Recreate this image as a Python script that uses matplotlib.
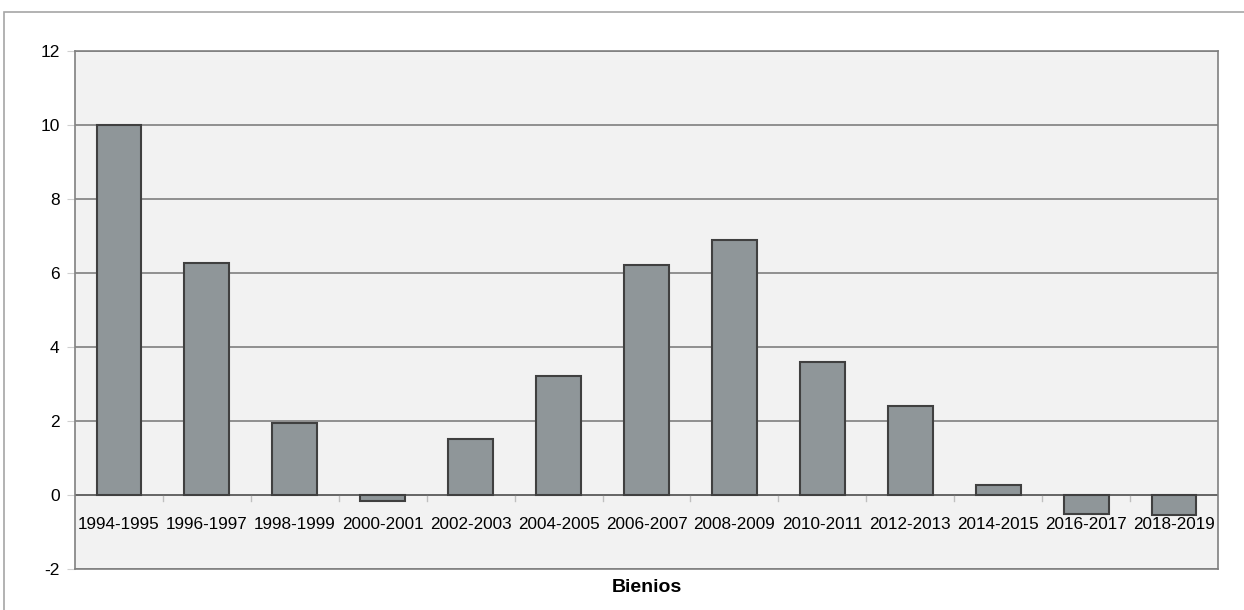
import matplotlib
matplotlib.use('Agg')
import matplotlib.pyplot as plt
from matplotlib.patches import Rectangle

# Bienios and their values
bienios = ['1994-1995', '1996-1997', '1998-1999', '2000-2001', '2002-2003',
           '2004-2005', '2006-2007', '2008-2009', '2010-2011', '2012-2013',
           '2014-2015', '2016-2017', '2018-2019']
valores = [10.0, 6.27, 1.95, -0.17, 1.51, 3.22, 6.22, 6.88, 3.6, 2.41, 0.27, -0.51, -0.55]
y_ticks = [-2, 0, 2, 4, 6, 8, 10, 12]

plt.rcParams['font.family'] = ['Liberation Sans', 'DejaVu Sans']

fig = plt.figure(figsize=(12.44, 6.10), dpi=100)
W, H = 1244, 610

# outer chart frame
fig.patches.append(Rectangle((4 / W, -0.1), 1.2, (610 - 12) / H + 0.1,
                             transform=fig.transFigure, fill=False,
                             edgecolor='#a6a6a6', linewidth=1.2))

ax = fig.add_axes([75 / W, (H - 569) / H, (1218 - 75) / W, (569 - 51) / H])
ax.set_facecolor('#f2f2f2')

x = list(range(len(bienios)))
ax.bar(x, valores, width=0.51, color='#8f9699', edgecolor='#404040', linewidth=1.5, zorder=3)

ax.set_xlim(-0.5, len(bienios) - 0.5)
ax.set_ylim(-2, 12)
ax.set_yticks(y_ticks)
ax.set_yticklabels([str(v) for v in y_ticks], fontsize=12.5)
ax.yaxis.grid(True, color='#7f7f7f', linewidth=1.2, zorder=1)
ax.set_axisbelow(True)
ax.tick_params(axis='y', length=6, color='#d0d0d0', pad=5)

# categories sit below the zero line, with separator ticks under it
ax.set_xticks([])
for i, lab in enumerate(bienios):
    ax.text(i, -0.8, lab, ha='center', va='center', fontsize=12.3, zorder=4)
for i in range(1, len(bienios)):
    ax.plot([i - 0.5, i - 0.5], [0, -0.16], color='#bfbfbf', linewidth=1, zorder=2)
ax.axhline(0, color='#606060', linewidth=1.2, zorder=2)

for s in ax.spines.values():
    s.set_color('#808080')
    s.set_linewidth(1.2)

fig.text(647 / W, 1 - 587 / H, 'Bienios', ha='center', va='center',
         fontsize=14, fontweight='bold')

fig.savefig('out.png', dpi=100)
